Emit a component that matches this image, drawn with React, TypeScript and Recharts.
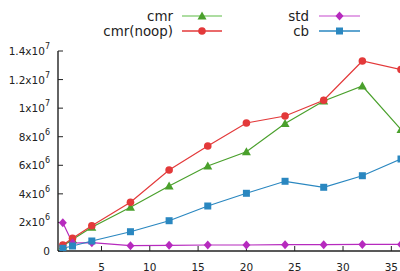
import { LineChart, Line, XAxis, YAxis } from "recharts";

const threads = [1, 2, 4, 8, 12, 16, 20, 24, 28, 32, 36];
const cmr = [350000, 800000, 1660000, 3060000, 4550000, 5950000, 6950000, 8930000, 10500000, 11550000, 8500000];
const cmrNoop = [420000, 890000, 1770000, 3410000, 5670000, 7350000, 8960000, 9450000, 10550000, 13300000, 12700000];
const std = [1980000, 560000, 580000, 370000, 400000, 420000, 420000, 440000, 440000, 460000, 460000];
const cb = [190000, 350000, 700000, 1350000, 2120000, 3150000, 4040000, 4880000, 4460000, 5270000, 6440000];

const xTicks = [5, 10, 15, 20, 25, 30, 35];
const yTicks = [0, 2000000, 4000000, 6000000, 8000000, 10000000, 12000000, 14000000];
const yTickLabels = [["0", ""], ["2", "6"], ["4", "6"], ["6", "6"], ["8", "6"], ["1", "7"], ["1.2", "7"], ["1.4", "7"]];

const FONT = "'DejaVu Sans', sans-serif";
const INK = "#222";

const series = [
  { key: "cmr", name: "cmr", color: "#4aa02c", legendLine: "#92d282", shape: "triangle", values: cmr },
  { key: "noop", name: "cmr(noop)", color: "#e3393a", legendLine: "#e3393a", shape: "circle", values: cmrNoop },
  { key: "std", name: "std", color: "#b62abe", legendLine: "#d884de", shape: "diamond", values: std },
  { key: "cb", name: "cb", color: "#2a87c0", legendLine: "#2a87c0", shape: "square", values: cb },
];

const data = threads.map((t, i) => {
  const row: Record<string, number> = { t };
  series.forEach((s) => (row[s.key] = s.values[i]));
  return row;
});

function Marker({ shape, cx, cy, color }: { shape: string; cx: number; cy: number; color: string }) {
  if (shape === "triangle")
    return <polygon points={`${cx},${cy - 4.5} ${cx + 4.5},${cy + 3.5} ${cx - 4.5},${cy + 3.5}`} fill={color} />;
  if (shape === "circle") return <circle cx={cx} cy={cy} r={3.8} fill={color} />;
  if (shape === "square") return <rect x={cx - 3.5} y={cy - 3.5} width={7} height={7} fill={color} />;
  return <polygon points={`${cx},${cy - 4.5} ${cx + 4},${cy} ${cx},${cy + 4.5} ${cx - 4},${cy}`} fill={color} />;
}

const YTick = ({ x, y, payload }: any) => {
  const i = yTicks.indexOf(payload.value);
  const [m, e] = yTickLabels[i] ?? [String(payload.value), ""];
  return (
    <text x={x} y={y} textAnchor="end" dominantBaseline="central" fontSize={10.5} fontFamily={FONT} fill={INK}>
      {e ? `${m}x10` : m}
      {e && (
        <tspan dy={-5} fontSize={8}>
          {e}
        </tspan>
      )}
    </text>
  );
};

const NoLabel = () => <g />;

function ChartLegend() {
  const cols = [
    { textRight: 173, x1: 182, x2: 222, items: [series[0], series[1]] },
    { textRight: 309, x1: 319, x2: 360, items: [series[2], series[3]] },
  ];
  const rows = [16, 31];
  return (
    <svg width={400} height={45} style={{ position: "absolute", left: 0, top: 0 }}>
      {cols.map((c) =>
        c.items.map((s, r) => (
          <g key={s.key}>
            <text x={c.textRight} y={rows[r]} textAnchor="end" dominantBaseline="central" fontSize={13.4} fontFamily={FONT} fill={INK}>
              {s.name}
            </text>
            <line x1={c.x1} x2={c.x2} y1={rows[r]} y2={rows[r]} stroke={s.legendLine} strokeWidth={1.6} />
            <Marker shape={s.shape} cx={(c.x1 + c.x2) / 2} cy={rows[r]} color={s.color} />
          </g>
        ))
      )}
    </svg>
  );
}

export default function App() {
  return (
    <div style={{ position: "absolute", left: 0, top: 0, width: 400, height: 271, overflow: "hidden", background: "#fff" }}>
      <LineChart width={420} height={271} data={data} margin={{ top: 51, right: 19, bottom: 0, left: 0 }}>
        <XAxis
          dataKey="t"
          type="number"
          domain={[0.5, 36]}
          allowDataOverflow
          ticks={xTicks}
          height={20}
          tickSize={-5}
          tickMargin={17.5}
          axisLine={{ stroke: INK, strokeWidth: 1.4 }}
          tickLine={{ stroke: INK }}
          tick={{ fontSize: 10.5, fontFamily: FONT, fill: INK }}
        />
        <XAxis
          xAxisId="top"
          orientation="top"
          dataKey="t"
          type="number"
          domain={[0.5, 36]}
          allowDataOverflow
          ticks={xTicks}
          height={0}
          tickSize={-5}
          axisLine={{ stroke: INK, strokeWidth: 1.4 }}
          tickLine={{ stroke: INK }}
          tick={NoLabel}
        />
        <YAxis
          type="number"
          domain={[0, 14000000]}
          allowDataOverflow
          ticks={yTicks}
          width={58}
          tickSize={-5}
          tickMargin={13}
          axisLine={{ stroke: INK, strokeWidth: 1.4 }}
          tickLine={{ stroke: INK }}
          tick={YTick}
        />
        <YAxis
          yAxisId="right"
          orientation="right"
          type="number"
          domain={[0, 14000000]}
          allowDataOverflow
          ticks={yTicks}
          width={0}
          tickSize={-5}
          axisLine={{ stroke: INK, strokeWidth: 1.4 }}
          tickLine={{ stroke: INK }}
          tick={NoLabel}
        />
        {series.map((s) => (
          <Line
            key={s.key}
            dataKey={s.key}
            stroke={s.color}
            strokeWidth={1.2}
            isAnimationActive={false}
            dot={(p: any) => <Marker key={`${s.key}-${p.index}`} shape={s.shape} cx={p.cx} cy={p.cy} color={s.color} />}
            activeDot={false}
          />
        ))}
      </LineChart>
      <ChartLegend />
    </div>
  );
}
